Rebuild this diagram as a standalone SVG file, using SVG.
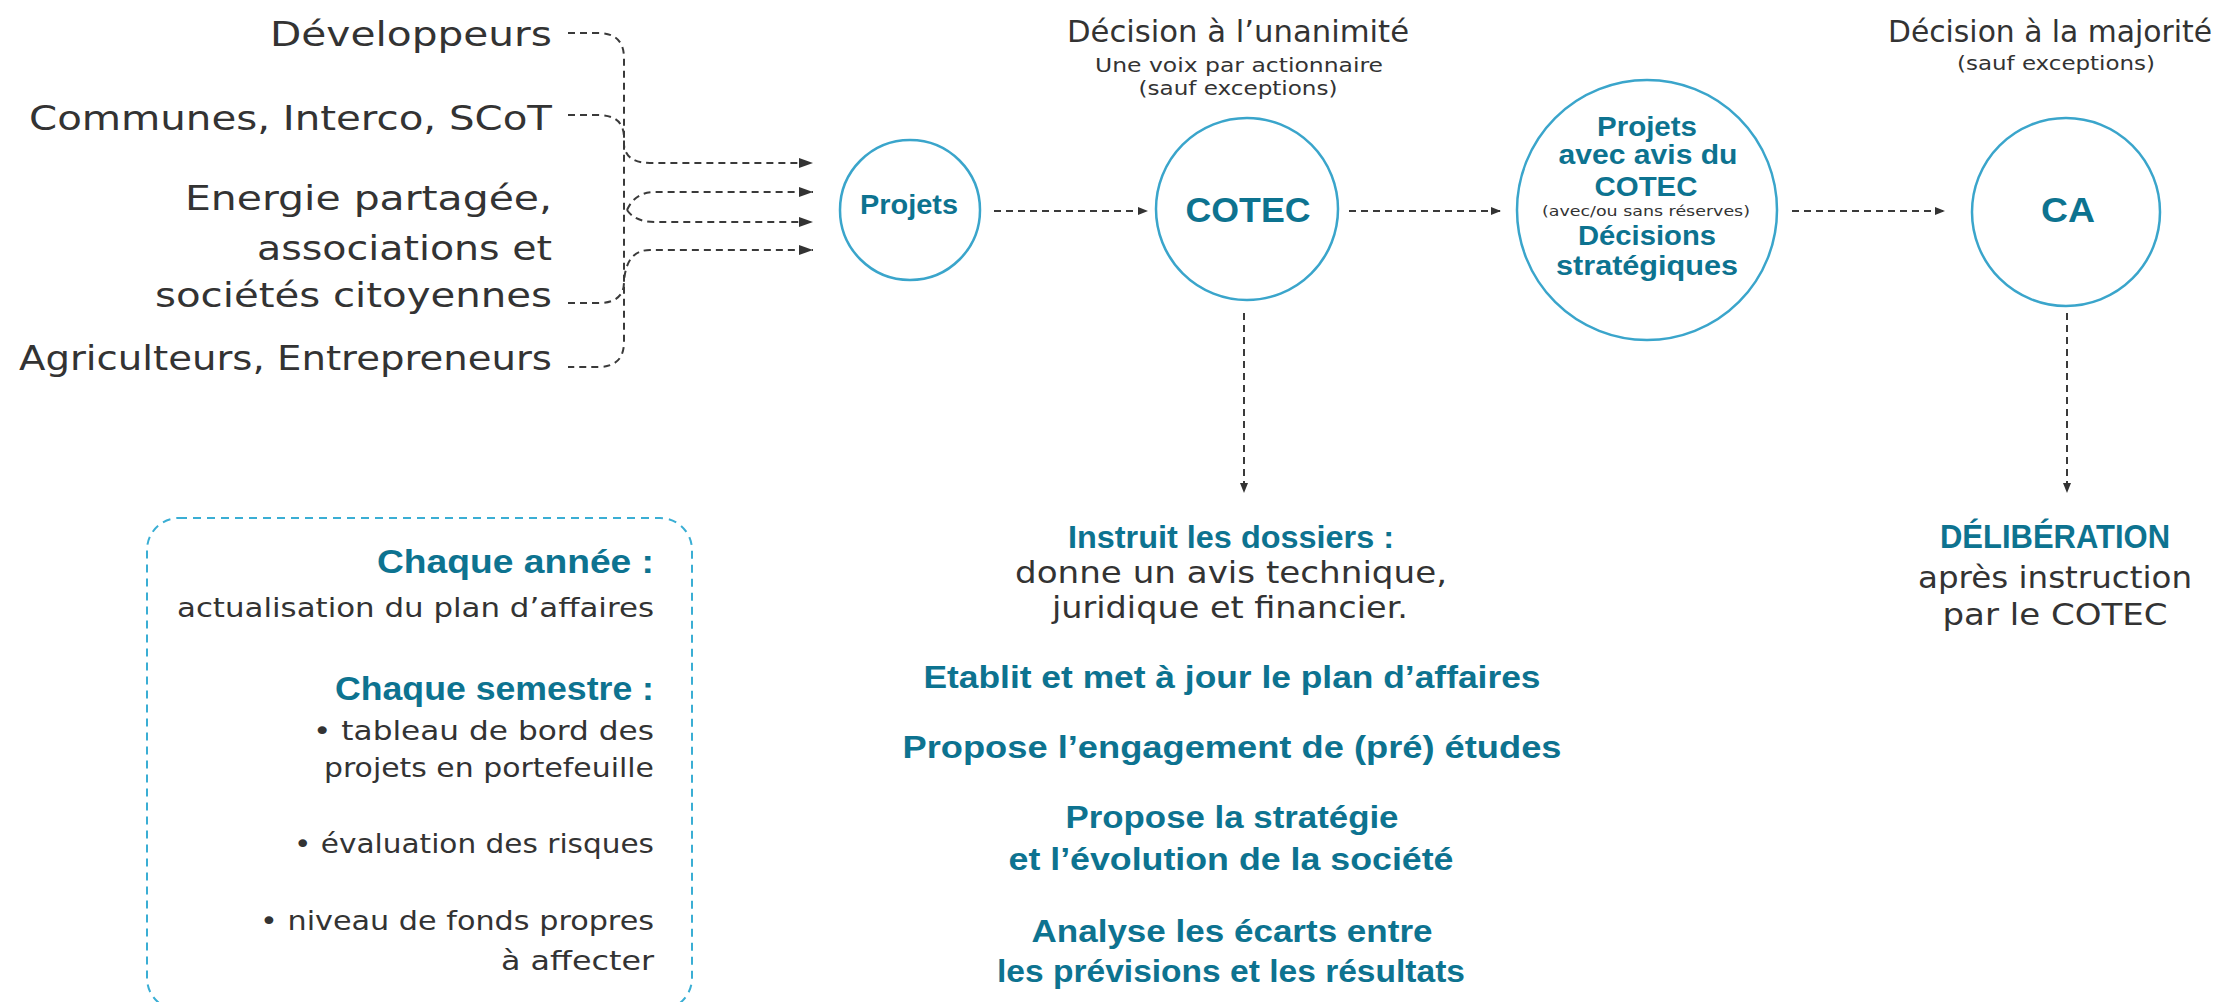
<svg xmlns="http://www.w3.org/2000/svg" width="2228" height="1002" viewBox="0 0 2228 1002">
<style>
.r{font-family:"DejaVu Sans","Liberation Sans",sans-serif;fill:#333;}
.bc{font-family:"Liberation Sans",Arial,sans-serif;font-weight:bold;fill:#0d7390;}
.bw{font-family:"Liberation Sans",Arial,sans-serif;font-weight:bold;fill:#0d7390;}
.node{fill:#fff;stroke:#3aa5cb;stroke-width:2.5;}
.conn{fill:none;stroke:#3a3a3a;stroke-width:2;stroke-dasharray:7 5;}
.end{text-anchor:end;}
.mid{text-anchor:middle;}
</style>
<defs>
<marker id="ah" viewBox="0 0 14 10" refX="14" refY="5" markerWidth="14" markerHeight="10" markerUnits="userSpaceOnUse" orient="auto"><path d="M0,0 L14,5 L0,10 z" fill="#333"/></marker>
<marker id="as" viewBox="0 0 10 8" refX="10" refY="4" markerWidth="10" markerHeight="8" markerUnits="userSpaceOnUse" orient="auto"><path d="M0,0 L10,4 L0,8 z" fill="#333"/></marker>
</defs>
<rect width="2228" height="1002" fill="#fff"/>

<g id="connectors">
<path class="conn" d="M568,33 H598 Q624,33 624,58 V342 Q624,367 598,367 H568"/>
<path class="conn" d="M568,115 H598 Q624,115 624,138 V145 Q626,163 650,163 H813" marker-end="url(#ah)"/>
<path class="conn" d="M568,303 H598 Q624,303 624,282 Q626,250 650,250 H813" marker-end="url(#ah)"/>
<path class="conn" d="M627,210 Q635,192 655,192 H813" marker-end="url(#ah)"/>
<path class="conn" d="M627,210 Q635,222 655,222 H813" marker-end="url(#ah)"/>
<path class="conn" d="M994,211 H1148" marker-end="url(#as)"/>
<path class="conn" d="M1349,211 H1501" marker-end="url(#as)"/>
<path class="conn" d="M1792,211 H1945" marker-end="url(#as)"/>
<path class="conn" d="M1244,313 V493" marker-end="url(#as)"/>
<path class="conn" d="M2067,313 V493" marker-end="url(#as)"/>
</g>

<g id="sources">
<text class="r end" x="552" y="46" font-size="33" textLength="282" lengthAdjust="spacingAndGlyphs">Développeurs</text>
<text class="r end" x="552" y="130" font-size="33" textLength="523" lengthAdjust="spacingAndGlyphs">Communes, Interco, SCoT</text>
<text class="r end" x="552" y="210" font-size="33" textLength="367" lengthAdjust="spacingAndGlyphs">Energie partagée,</text>
<text class="r end" x="552" y="260" font-size="33" textLength="295" lengthAdjust="spacingAndGlyphs">associations et</text>
<text class="r end" x="552" y="307" font-size="33" textLength="397" lengthAdjust="spacingAndGlyphs">sociétés citoyennes</text>
<text class="r end" x="552" y="370" font-size="33" textLength="533" lengthAdjust="spacingAndGlyphs">Agriculteurs, Entrepreneurs</text>
</g>

<g id="projets">
<circle class="node" cx="910" cy="210" r="70"/>
<text class="bc mid" x="909" y="214" font-size="28" textLength="98" lengthAdjust="spacingAndGlyphs">Projets</text>
</g>

<g id="cotec">
<text class="r mid" x="1238" y="42" font-size="30" textLength="342" lengthAdjust="spacingAndGlyphs">Décision à l’unanimité</text>
<text class="r mid" x="1239" y="72" font-size="20" textLength="288" lengthAdjust="spacingAndGlyphs">Une voix par actionnaire</text>
<text class="r mid" x="1238" y="95" font-size="20" textLength="199" lengthAdjust="spacingAndGlyphs">(sauf exceptions)</text>
<circle class="node" cx="1247" cy="209" r="91"/>
<text class="bc mid" x="1248" y="222" font-size="35" textLength="125" lengthAdjust="spacingAndGlyphs">COTEC</text>
</g>

<g id="avis">
<circle class="node" cx="1647" cy="210" r="130"/>
<text class="bc mid" x="1647" y="136" font-size="28" textLength="100" lengthAdjust="spacingAndGlyphs">Projets</text>
<text class="bc mid" x="1648" y="164" font-size="28" textLength="179" lengthAdjust="spacingAndGlyphs">avec avis du</text>
<text class="bc mid" x="1646" y="196" font-size="28" textLength="103" lengthAdjust="spacingAndGlyphs">COTEC</text>
<text class="r mid" x="1646" y="216" font-size="14" textLength="208" lengthAdjust="spacingAndGlyphs">(avec/ou sans réserves)</text>
<text class="bc mid" x="1647" y="245" font-size="28" textLength="138" lengthAdjust="spacingAndGlyphs">Décisions</text>
<text class="bc mid" x="1647" y="275" font-size="28" textLength="182" lengthAdjust="spacingAndGlyphs">stratégiques</text>
</g>

<g id="ca">
<text class="r mid" x="2050" y="42" font-size="30" textLength="324" lengthAdjust="spacingAndGlyphs">Décision à la majorité</text>
<text class="r mid" x="2056" y="70" font-size="20" textLength="198" lengthAdjust="spacingAndGlyphs">(sauf exceptions)</text>
<circle class="node" cx="2066" cy="212" r="94"/>
<text class="bc mid" x="2068" y="222" font-size="35" textLength="54" lengthAdjust="spacingAndGlyphs">CA</text>
</g>

<g id="cotec-roles">
<text class="bc mid" x="1231" y="548" font-size="31" textLength="326" lengthAdjust="spacingAndGlyphs">Instruit les dossiers :</text>
<text class="r mid" x="1231" y="583" font-size="30" textLength="432" lengthAdjust="spacingAndGlyphs">donne un avis technique,</text>
<text class="r mid" x="1230" y="618" font-size="30" textLength="356" lengthAdjust="spacingAndGlyphs">juridique et financier.</text>
<text class="bc mid" x="1232" y="688" font-size="31" textLength="617" lengthAdjust="spacingAndGlyphs">Etablit et met à jour le plan d’affaires</text>
<text class="bc mid" x="1232" y="758" font-size="31" textLength="659" lengthAdjust="spacingAndGlyphs">Propose l’engagement de (pré) études</text>
<text class="bc mid" x="1232" y="828" font-size="31" textLength="333" lengthAdjust="spacingAndGlyphs">Propose la stratégie</text>
<text class="bc mid" x="1231" y="870" font-size="31" textLength="445" lengthAdjust="spacingAndGlyphs">et l’évolution de la société</text>
<text class="bc mid" x="1232" y="942" font-size="31" textLength="401" lengthAdjust="spacingAndGlyphs">Analyse les écarts entre</text>
<text class="bc mid" x="1231" y="982" font-size="31" textLength="468" lengthAdjust="spacingAndGlyphs">les prévisions et les résultats</text>
</g>

<g id="deliberation">
<text class="bw mid" x="2055" y="548" font-size="34" textLength="230" lengthAdjust="spacingAndGlyphs">DÉLIBÉRATION</text>
<text class="r mid" x="2055" y="588" font-size="31" textLength="274" lengthAdjust="spacingAndGlyphs">après instruction</text>
<text class="r mid" x="2055" y="625" font-size="31" textLength="225" lengthAdjust="spacingAndGlyphs">par le COTEC</text>
</g>

<g id="calendrier">
<rect x="147" y="518" width="545" height="492" rx="32" fill="none" stroke="#3aaed4" stroke-width="2" stroke-dasharray="8 6"/>
<text class="bw end" x="654" y="573" font-size="34" textLength="277" lengthAdjust="spacingAndGlyphs">Chaque année :</text>
<text class="r end" x="654" y="617" font-size="27" textLength="477" lengthAdjust="spacingAndGlyphs">actualisation du plan d’affaires</text>
<text class="bw end" x="654" y="700" font-size="34" textLength="319" lengthAdjust="spacingAndGlyphs">Chaque semestre :</text>
<text class="r end" x="654" y="740" font-size="27" textLength="341" lengthAdjust="spacingAndGlyphs">• tableau de bord des</text>
<text class="r end" x="654" y="777" font-size="27" textLength="330" lengthAdjust="spacingAndGlyphs">projets en portefeuille</text>
<text class="r end" x="654" y="853" font-size="27" textLength="360" lengthAdjust="spacingAndGlyphs">• évaluation des risques</text>
<text class="r end" x="654" y="930" font-size="27" textLength="394" lengthAdjust="spacingAndGlyphs">• niveau de fonds propres</text>
<text class="r end" x="654" y="970" font-size="27" textLength="153" lengthAdjust="spacingAndGlyphs">à affecter</text>
</g>
</svg>
